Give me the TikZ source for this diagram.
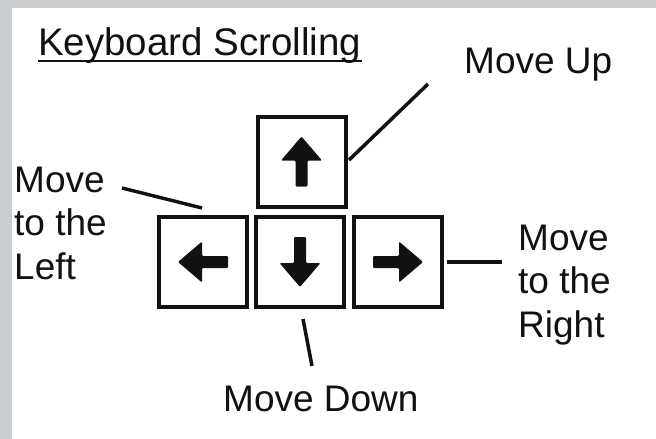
\documentclass[tikz,border=0pt]{standalone}
\usepackage{fontspec}
\setmainfont{Liberation Sans}
\definecolor{bandgray}{RGB}{199,205,209}
\definecolor{inkblack}{RGB}{17,17,17}
\begin{document}
\begin{tikzpicture}[x=1pt,y=-1pt,
  lbl/.style={inner sep=0pt, text=inkblack, font=\fontsize{37}{43.5}\selectfont, align=left},
  keybox/.style={draw=inkblack, line width=4pt, minimum width=88pt, minimum height=90pt, inner sep=0pt},
  connector/.style={draw=inkblack, line width=3.5pt},
  arrowglyph/.pic={\fill[inkblack, rounded corners=1.2pt] (0,-25) -- (20.5,-1) -- (6,-1) -- (6,25) -- (-6,25) -- (-6,-1) -- (-20.5,-1) -- cycle;}
]
\useasboundingbox (0,0) rectangle (656,439);
\fill[bandgray] (0,0) rectangle (656,439);
\fill[white] (12,8) rectangle (656,439);

% title
\node[lbl, font=\fontsize{38.5}{44}\selectfont, anchor=base west] (title) at (38,55) {Keyboard Scrolling};
\draw[inkblack, line width=2.5pt] ([yshift=-6pt]title.base west) -- ([yshift=-6pt]title.base east);

% keys
\node[keybox] (upkey) at (301.5,161.5) {};
\node[keybox] (leftkey) at (203,262) {};
\node[keybox] (downkey) at (300,262) {};
\node[keybox] (rightkey) at (398,262) {};

\pic at (upkey.center) {arrowglyph};
\pic[rotate=90] at (leftkey.center) {arrowglyph};
\pic[rotate=180] at (downkey.center) {arrowglyph};
\pic[rotate=-90] at (rightkey.center) {arrowglyph};

% labels (base anchor = baseline of last line)
\node[lbl, anchor=base west] (uplbl) at (464,73) {Move Up};
\node[lbl, anchor=base west] (leftlbl) at (14,279) {Move\\to the\\Left};
\node[lbl, anchor=base west] (rightlbl) at (518,337) {Move\\to the\\Right};
\node[lbl, anchor=base west] (downlbl) at (223,411) {Move Down};

% connector ends
\coordinate (upA) at (349,160);
\coordinate (upB) at (428,84);
\coordinate (leftA) at (122,188);
\coordinate (leftB) at (202,208);
\coordinate (downA) at (303,319);
\coordinate (downB) at (312,366);
\coordinate (rightA) at (447,262);
\coordinate (rightB) at (502,262);

\draw[connector] (upA) -- (upB);
\draw[connector] (leftA) -- (leftB);
\draw[connector] (downA) -- (downB);
\draw[connector] (rightA) -- (rightB);
\end{tikzpicture}
\end{document}
